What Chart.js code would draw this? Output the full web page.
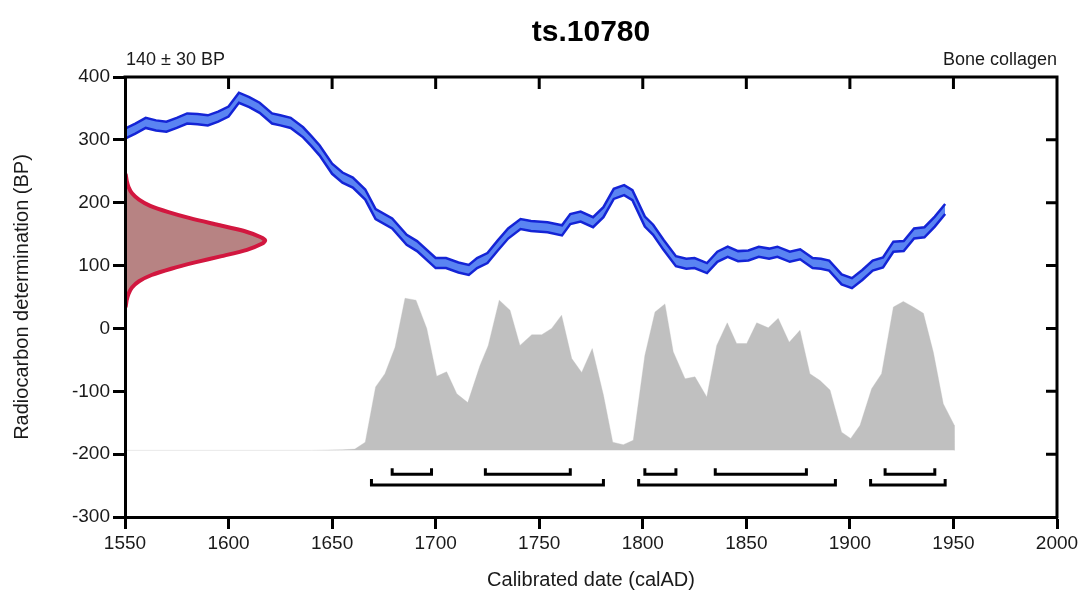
<!DOCTYPE html>
<html>
<head>
<meta charset="utf-8">
<script src="https://cdn.jsdelivr.net/npm/chart.js@4.4.1/dist/chart.umd.min.js"></script>
<style>
html,body{margin:0;padding:0;background:#fff;}
#wrap{width:1082px;height:592px;position:relative;}
canvas{display:block;}
</style>
</head>
<body>
<div id="wrap"><canvas id="c" width="1082" height="592"></canvas></div>
<script>
// ---- texts ----
const chartTitle = 'ts.10780';
const sampleLabel = '140 ± 30 BP';
const materialLabel = 'Bone collagen';
const xAxisTitle = 'Calibrated date (calAD)';
const yAxisTitle = 'Radiocarbon determination (BP)';

// ---- tick labels ----
const xTickValues = [1550, 1600, 1650, 1700, 1750, 1800, 1850, 1900, 1950, 2000];
const yTickValues = [-300, -200, -100, 0, 100, 200, 300, 400];

// ---- calibration curve (calAD, BP centre) ----
const calYears = [1550,1555,1560,1565,1570,1575,1580,1585,1590,1595,1600,1605,1610,1615,1621,1625,1630,1636,1640,1644,1650,1655,1660,1666,1671,1679,1686,1691,1700,1705,1711,1716,1720,1725,1730,1735,1741,1746,1754,1761,1765,1770,1776,1781,1786,1791,1795,1801,1805,1810,1816,1821,1825,1831,1836,1841,1846,1851,1856,1861,1865,1871,1876,1882,1886,1890,1896,1901,1906,1911,1916,1921,1926,1931,1936,1941,1946];
const calBP    = [310,318,327,323,321,327,334,333,331,337,345,367,360,351,334,331,327,312,298,283,254,240,232,213,182,167,141,131,104,104,97,93,104,112,132,151,166,163,161,156,174,178,169,185,214,220,212,170,157,133,107,103,104,96,114,122,115,116,122,119,122,114,118,104,103,100,78,72,85,100,105,130,131,151,153,170,190];
const calSigma = 8;

// ---- calibrated (posterior) distribution, top edge in BP units ----
const postYears = [1550,1640,1655,1661,1666,1671,1675.5,1680.4,1685.2,1690.5,1695.7,1700.5,1705.3,1710.2,1715.5,1721.4,1725.4,1730.7,1735.9,1740.7,1746.4,1751.2,1756,1760.8,1765.7,1770.5,1775.6,1781,1785.5,1790.6,1795.4,1801,1805.9,1810.7,1814.7,1820.4,1825.2,1830.9,1835.7,1840.8,1845.3,1850.2,1855,1860.6,1865.4,1870.7,1875.9,1880.7,1885.6,1890.4,1896,1900.4,1904.9,1910.5,1915.3,1921,1925.8,1930.6,1935.5,1940.3,1945.1,1950.4,1950.5];
const postTop   = [-194,-194,-193,-192,-181,-93,-72,-30,48,45,0,-76,-69,-104,-118,-59,-27,45,29,-27,-10,-10,0,21,-48,-70,-32,-106,-181,-185,-178,-43,26,39,-37,-80,-77,-109,-27,9,-24,-24,9,1,16,-22,-3,-72,-83,-98,-165,-175,-154,-96,-72,34,43,34,24,-38,-120,-154,-194];
const postBase = -194;

// ---- measured radiocarbon date distribution ----
const measBP   = [245,235,225,215,205,195,185,175,165,155,145,140,135,125,115,105,95,85,75,65,55,45,35];
const measProb = [0.005,0.012,0.025,0.05,0.10,0.18,0.31,0.47,0.66,0.85,0.97,1.0,0.98,0.87,0.69,0.50,0.33,0.19,0.10,0.05,0.025,0.012,0.005];

// ---- calibrated ranges (calAD) ----
const range68 = [[1679,1698],[1724,1765],[1801,1816],[1835,1879],[1917,1941]];
const range95 = [[1669,1781],[1798,1893],[1910,1946]];

// ---------------- build ----------------
const FONT = '"Liberation Sans", Arial, Helvetica, sans-serif';
const ROW68 = -232, ROW95 = -249, BRACKET_TICK = 9.5;

const calUpper = calYears.map((x, i) => ({x, y: calBP[i] + calSigma}));
const calLower = calYears.map((x, i) => ({x, y: calBP[i] - calSigma}));
const postPts = postYears.map((x, i) => ({x, y: postTop[i]}));
const measPts = [{x: 0, y: measBP[0]}].concat(measBP.map((y, i) => ({x: measProb[i], y})), [{x: 0, y: measBP[measBP.length - 1]}]);

function bracketPts(ranges, row) {
  const pts = [];
  ranges.forEach(([a, b]) => {
    pts.push({x: a, y: row + BRACKET_TICK}, {x: a, y: row}, {x: b, y: row}, {x: b, y: row + BRACKET_TICK}, {x: b, y: null});
  });
  return pts;
}
const bracketData = bracketPts(range68, ROW68).concat(bracketPts(range95, ROW95));

const framePlugin = {
  id: 'frameAndTexts',
  afterDraw(chart) {
    const {ctx, chartArea: a} = chart;
    const x = chart.scales.x, y = chart.scales.y;
    ctx.save();
    ctx.strokeStyle = '#000';
    ctx.lineWidth = 3;
    ctx.beginPath();
    ctx.moveTo(a.left - 1.5, a.top);
    ctx.lineTo(a.right + 1.5, a.top);
    ctx.moveTo(a.right, a.top);
    ctx.lineTo(a.right, a.bottom + 1.5);
    ctx.stroke();
    ctx.beginPath();
    xTickValues.forEach(v => {
      if (v > x.min && v < x.max) { const p = x.getPixelForValue(v); ctx.moveTo(p, a.top); ctx.lineTo(p, a.top + 12); }
    });
    yTickValues.forEach(v => {
      if (v > y.min && v < y.max) { const p = y.getPixelForValue(v); ctx.moveTo(a.right, p); ctx.lineTo(a.right - 11, p); }
    });
    ctx.stroke();
    ctx.fillStyle = '#000';
    ctx.font = 'bold 30px ' + FONT;
    ctx.textAlign = 'center';
    ctx.textBaseline = 'alphabetic';
    ctx.fillText(chartTitle, (a.left + a.right) / 2, 41);
    ctx.fillStyle = '#1a1a1a';
    ctx.font = '18px ' + FONT;
    ctx.textAlign = 'left';
    ctx.fillText(sampleLabel, a.left + 1, 65);
    ctx.textAlign = 'right';
    ctx.fillText(materialLabel, a.right, 65);
    ctx.restore();
  }
};

new Chart(document.getElementById('c'), {
  type: 'line',
  data: {
    datasets: [
      { // brackets
        data: bracketData, xAxisID: 'x', yAxisID: 'y',
        borderColor: '#000', borderWidth: 3, pointRadius: 0, fill: false, spanGaps: false,
        borderCapStyle: 'butt', borderJoinStyle: 'miter', order: 0
      },
      { // measurement distribution
        data: measPts, xAxisID: 'xProb', yAxisID: 'y',
        borderColor: '#d2173f', borderWidth: 4, backgroundColor: 'rgb(183,131,131)',
        fill: 'shape', pointRadius: 0, tension: 0.2, order: 1
      },
      { // calibration curve upper
        data: calUpper, xAxisID: 'x', yAxisID: 'y',
        borderColor: '#1424d6', borderWidth: 2.5, backgroundColor: '#5a84f2',
        fill: '+1', pointRadius: 0, tension: 0, order: 3
      },
      { // calibration curve lower
        data: calLower, xAxisID: 'x', yAxisID: 'y',
        borderColor: '#1424d6', borderWidth: 2.5, fill: false, pointRadius: 0, tension: 0, order: 2
      },
      { // posterior
        data: postPts, xAxisID: 'x', yAxisID: 'y',
        borderColor: 'rgba(192,192,192,0.35)', borderWidth: 1, backgroundColor: '#c0c0c0',
        fill: {value: postBase}, pointRadius: 0, tension: 0, order: 4
      }
    ]
  },
  options: {
    responsive: false,
    animation: false,
    devicePixelRatio: 1,
    layout: {padding: {top: 77, right: 25, left: 0, bottom: 0}},
    plugins: {legend: {display: false}, tooltip: {enabled: false}, title: {display: false}},
    scales: {
      x: {
        type: 'linear', position: 'bottom', min: 1550, max: 2000,
        afterBuildTicks: s => { s.ticks = xTickValues.map(v => ({value: v})); },
        afterFit: s => { s.height = 75; },
        grid: {drawOnChartArea: false, drawTicks: true, tickLength: 12, tickWidth: 3, tickColor: '#000'},
        border: {display: true, color: '#000', width: 3, z: 1},
        ticks: {color: '#1a1a1a', font: {family: FONT, size: 19}, padding: 3, maxRotation: 0, autoSkip: false,
                callback: v => String(v)},
        title: {display: true, text: xAxisTitle, color: '#1a1a1a', font: {family: FONT, size: 20}, padding: {top: 0, bottom: 0}}
      },
      y: {
        type: 'linear', position: 'left', min: -300, max: 400,
        afterBuildTicks: s => { s.ticks = yTickValues.map(v => ({value: v})); },
        afterFit: s => { s.width = 125; },
        grid: {drawOnChartArea: false, drawTicks: true, tickLength: 12, tickWidth: 3, tickColor: '#000'},
        border: {display: true, color: '#000', width: 3, z: 1},
        ticks: {color: '#1a1a1a', font: {family: FONT, size: 19}, padding: 3, autoSkip: false,
                callback: v => String(v)},
        title: {display: true, text: yAxisTitle, color: '#1a1a1a', font: {family: FONT, size: 20}, padding: {top: 10, bottom: 0}}
      },
      xProb: {
        type: 'linear', display: false, min: 0, max: 6.65
      }
    }
  },
  plugins: [framePlugin]
});
</script>
</body>
</html>
